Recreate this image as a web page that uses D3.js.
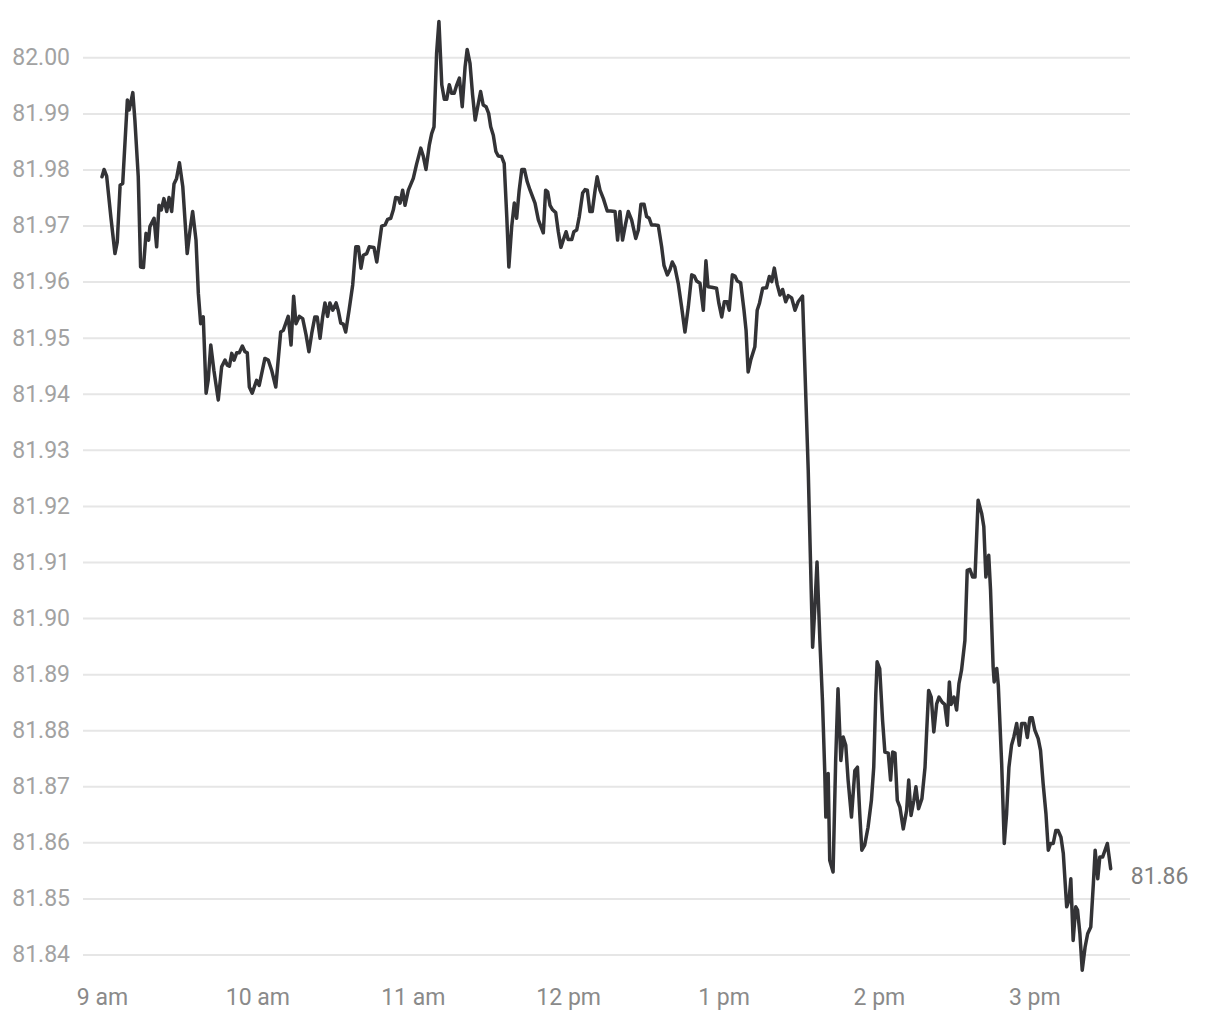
<!DOCTYPE html>
<html lang="en">
<head>
<meta charset="UTF-8">
<title>Intraday price</title>
<style>
  * { margin: 0; padding: 0; }
  body { background: #fff; }
  svg text { font-family: Roboto, "Noto Sans", sans-serif; }
</style>
</head>
<body>
<div id="chart"></div>
<script src="https://cdn.jsdelivr.net/npm/d3@7/dist/d3.min.js"></script>
<script>
// minutes after 9:00
var minutes = [
  0, 0.8, 1.8, 3.4, 5.0, 5.9, 7.0, 8.0, 9.8, 10.5, 11.9, 12.7, 14.0, 14.9, 16.0, 17.0, 18.0, 18.5, 20.1, 21.1,
  22.0, 22.9, 23.9, 25.0, 25.9, 26.9, 27.8, 28.8, 29.9, 31.2, 32.9, 34.0, 35.0, 36.3, 37.2, 38.1, 39.1, 40.2, 41.0, 42.0,
  43.2, 44.9, 46.2, 47.5, 48.4, 49.2, 50.1, 51.0, 52.0, 53.0, 54.2, 55.2, 56.1, 56.9, 58.0, 59.7, 60.7, 62.9, 64.2, 65.5,
  67.1, 69.0, 70.0, 71.9, 73.0, 74.0, 74.9, 76.2, 77.5, 78.8, 79.9, 81.0, 82.2, 83.1, 84.2, 85.2, 86.1, 87.1, 88.0, 89.1,
  90.4, 91.2, 92.2, 93.2, 94.1, 95.4, 96.8, 98.0, 99.0, 100.0, 100.9, 102.2, 103.2, 105.0, 106.1, 108.0, 109.3, 110.3, 111.5, 112.5,
  113.4, 114.4, 115.1, 116.1, 117.0, 118.3, 120.2, 121.5, 123.1, 124.1, 125.1, 126.4, 127.3, 128.2, 129.2, 130.1, 131.2, 132.2, 133.1, 134.1,
  135.0, 136.0, 137.0, 138.0, 139.1, 140.2, 141.0, 142.1, 143.1, 144.1, 145.2, 146.2, 147.2, 148.3, 149.3, 150.1, 151.1, 152.1, 153.0, 154.3,
  155.3, 156.3, 157.1, 158.2, 159.2, 160.1, 161.1, 162.1, 163.1, 164.2, 165.3, 167.2, 168.5, 170.4, 171.3, 172.1, 173.0, 174.0, 175.2, 176.2,
  177.2, 178.1, 179.2, 180.0, 181.4, 182.2, 183.3, 184.3, 185.6, 186.5, 187.4, 188.4, 189.3, 190.4, 191.2, 192.3, 193.6, 195.1, 196.4, 198.1,
  199.1, 200.0, 201.0, 202.1, 203.2, 204.5, 206.1, 207.1, 208.1, 209.3, 210.3, 211.3, 212.2, 213.5, 214.8, 216.1, 217.0, 218.3, 219.3, 220.2,
  221.2, 222.5, 223.8, 225.1, 226.4, 227.7, 228.7, 229.6, 230.9, 232.2, 233.2, 234.0, 235.4, 237.3, 238.2, 239.3, 240.3, 241.4, 242.2, 243.4,
  244.4, 245.3, 246.6, 247.9, 248.7, 249.5, 250.5, 252.1, 253.0, 253.9, 255.1, 256.6, 257.7, 258.6, 259.6, 260.7, 261.8, 262.8, 264.0, 265.0,
  266.3, 267.6, 268.8, 270.5, 272.7, 274.4, 275.2, 276.1, 277.2, 278.2, 279.1, 279.5, 280.4, 281.0, 282.3, 283.3, 284.2, 285.3, 286.2, 287.2,
  288.1, 289.4, 290.7, 291.7, 292.6, 293.4, 294.5, 295.8, 297.1, 298.0, 298.8, 299.3, 300.3, 301.4, 302.3, 303.6, 304.5, 305.3, 306.2, 307.1,
  308.1, 309.4, 310.7, 311.5, 312.4, 313.5, 314.3, 315.3, 316.6, 317.8, 318.4, 319.2, 320.2, 321.2, 322.3, 323.2, 324.4, 325.4, 326.4, 327.2,
  327.9, 329.0, 330.0, 330.9, 331.9, 333.2, 334.1, 335.1, 336.2, 337.1, 338.3, 339.7, 340.5, 341.3, 342.4, 343.1, 344.1, 344.5, 345.5, 346.1,
  347.4, 348.4, 349.3, 350.2, 351.2, 352.1, 353.2, 354.2, 355.1, 356.4, 357.3, 358.3, 359.2, 360.2, 361.5, 362.4, 363.4, 364.5, 365.4, 366.3,
  367.3, 368.3, 369.2, 370.3, 371.2, 372.5, 373.4, 374.1, 375.0, 376.0, 376.7, 377.6, 378.5, 379.6, 380.6, 381.8, 382.8, 383.5, 384.5, 385.3,
  386.4, 387.3, 388.2, 389.5
];

var prices = [
  81.9787, 81.9800, 81.9788, 81.9716, 81.9650, 81.9671, 81.9772, 81.9775, 81.9924, 81.9906, 81.9937, 81.9888, 81.9787, 81.9626, 81.9625, 81.9686, 81.9674, 81.9698, 81.9713, 81.9662,
  81.9736, 81.9728, 81.9748, 81.9725, 81.9750, 81.9725, 81.9774, 81.9784, 81.9812, 81.9769, 81.9650, 81.9692, 81.9725, 81.9674, 81.9579, 81.9525, 81.9537, 81.9401, 81.9424, 81.9487,
  81.9442, 81.9389, 81.9448, 81.9460, 81.9451, 81.9449, 81.9472, 81.9460, 81.9473, 81.9473, 81.9485, 81.9475, 81.9473, 81.9412, 81.9401, 81.9424, 81.9415, 81.9463, 81.9460, 81.9442,
  81.9412, 81.9510, 81.9513, 81.9538, 81.9487, 81.9574, 81.9525, 81.9538, 81.9534, 81.9505, 81.9475, 81.9508, 81.9537, 81.9537, 81.9499, 81.9537, 81.9562, 81.9538, 81.9562, 81.9549,
  81.9562, 81.9549, 81.9526, 81.9524, 81.9510, 81.9549, 81.9594, 81.9662, 81.9662, 81.9624, 81.9647, 81.9650, 81.9662, 81.9661, 81.9635, 81.9699, 81.9701, 81.9711, 81.9713, 81.9728,
  81.9750, 81.9749, 81.9740, 81.9763, 81.9736, 81.9763, 81.9784, 81.9810, 81.9838, 81.9823, 81.9800, 81.9844, 81.9864, 81.9876, 82.0007, 82.0064, 81.9951, 81.9925, 81.9925, 81.9951,
  81.9936, 81.9936, 81.9951, 81.9963, 81.9912, 81.9983, 82.0014, 81.9989, 81.9933, 81.9888, 81.9915, 81.9939, 81.9915, 81.9912, 81.9900, 81.9876, 81.9861, 81.9832, 81.9824, 81.9823,
  81.9811, 81.9716, 81.9626, 81.9698, 81.9740, 81.9713, 81.9763, 81.9800, 81.9800, 81.9778, 81.9763, 81.9740, 81.9710, 81.9687, 81.9763, 81.9760, 81.9736, 81.9728, 81.9723, 81.9689,
  81.9661, 81.9674, 81.9689, 81.9675, 81.9675, 81.9689, 81.9692, 81.9716, 81.9758, 81.9764, 81.9763, 81.9725, 81.9725, 81.9763, 81.9787, 81.9763, 81.9748, 81.9726, 81.9726, 81.9725,
  81.9674, 81.9725, 81.9674, 81.9701, 81.9725, 81.9710, 81.9677, 81.9692, 81.9738, 81.9738, 81.9716, 81.9713, 81.9701, 81.9701, 81.9700, 81.9662, 81.9629, 81.9612, 81.9621, 81.9635,
  81.9626, 81.9597, 81.9555, 81.9510, 81.9555, 81.9612, 81.9610, 81.9601, 81.9597, 81.9549, 81.9637, 81.9591, 81.9590, 81.9588, 81.9561, 81.9537, 81.9564, 81.9564, 81.9549, 81.9612,
  81.9610, 81.9601, 81.9598, 81.9549, 81.9513, 81.9439, 81.9460, 81.9484, 81.9549, 81.9562, 81.9588, 81.9589, 81.9609, 81.9600, 81.9624, 81.9595, 81.9576, 81.9586, 81.9564, 81.9575,
  81.9571, 81.9549, 81.9564, 81.9574, 81.9264, 81.8948, 81.9014, 81.9100, 81.8960, 81.8853, 81.8723, 81.8645, 81.8723, 81.8568, 81.8547, 81.8746, 81.8874, 81.8746, 81.8788, 81.8773,
  81.8711, 81.8645, 81.8728, 81.8734, 81.8651, 81.8586, 81.8595, 81.8627, 81.8675, 81.8734, 81.8865, 81.8922, 81.8910, 81.8818, 81.8761, 81.8759, 81.8711, 81.8761, 81.8759, 81.8675,
  81.8663, 81.8624, 81.8657, 81.8711, 81.8648, 81.8675, 81.8699, 81.8660, 81.8678, 81.8734, 81.8794, 81.8871, 81.8859, 81.8797, 81.8847, 81.8859, 81.8850, 81.8846, 81.8809, 81.8886,
  81.8846, 81.8859, 81.8836, 81.8883, 81.8907, 81.8960, 81.9085, 81.9087, 81.9073, 81.9073, 81.9210, 81.9186, 81.9163, 81.9073, 81.9112, 81.9050, 81.8913, 81.8886, 81.8910, 81.8880,
  81.8740, 81.8598, 81.8651, 81.8734, 81.8773, 81.8788, 81.8812, 81.8773, 81.8812, 81.8812, 81.8787, 81.8822, 81.8822, 81.8800, 81.8785, 81.8764, 81.8705, 81.8651, 81.8586, 81.8598,
  81.8598, 81.8621, 81.8621, 81.8609, 81.8580, 81.8485, 81.8497, 81.8535, 81.8425, 81.8485, 81.8479, 81.8437, 81.8372, 81.8413, 81.8437, 81.8449, 81.8526, 81.8586, 81.8535, 81.8574,
  81.8574, 81.8586, 81.8598, 81.8553
];

var yTicks = [81.84, 81.85, 81.86, 81.87, 81.88, 81.89, 81.90, 81.91, 81.92, 81.93, 81.94, 81.95, 81.96, 81.97, 81.98, 81.99, 82.00];
var xTickHours = [9, 10, 11, 12, 13, 14, 15];
var xTickLabels = ['9 am', '10 am', '11 am', '12 pm', '1 pm', '2 pm', '3 pm'];

var width = 1220, height = 1020;
var day = function (h, m) { return new Date(2020, 0, 6, h, m || 0); };
var start = day(9, 0);

var data = minutes.map(function (m, i) {
  return { t: new Date(start.getTime() + m * 60000), v: prices[i] };
});

var svg = d3.select('#chart').append('svg')
  .attr('width', width).attr('height', height);

var x = d3.scaleTime()
  .domain([day(9, 0), day(15, 30)])
  .range([102, 1112]);

var y = d3.scaleLinear()
  .domain([81.84, 82.00])
  .range([954.5, 57.3]);

// grid + y labels
var yAxis = svg.append('g')
  .attr('transform', 'translate(1130,0)')
  .call(d3.axisLeft(y)
    .tickValues(yTicks)
    .tickSize(1047)
    .tickPadding(13)
    .tickFormat(d3.format('.2f')));
yAxis.select('.domain').remove();
yAxis.selectAll('line').attr('stroke', '#e6e6e6').attr('stroke-width', 2);
yAxis.selectAll('text')
  .attr('fill', '#a2a2a2')
  .attr('font-size', 23)
  .attr('font-family', 'Roboto, sans-serif');

// x labels
var xAxis = svg.append('g')
  .attr('transform', 'translate(0,980)')
  .call(d3.axisBottom(x)
    .tickValues(xTickHours.map(function (h) { return day(h, 0); }))
    .tickSize(0)
    .tickFormat(function (d, i) { return xTickLabels[i]; }));
xAxis.select('.domain').remove();
xAxis.selectAll('text')
  .attr('y', 25).attr('dy', 0)
  .attr('fill', '#8a8a8a')
  .attr('font-size', 23)
  .attr('font-family', 'Roboto, sans-serif');

var line = d3.line()
  .x(function (d) { return x(d.t); })
  .y(function (d) { return y(d.v); });

svg.append('path')
  .datum(data)
  .attr('d', line)
  .attr('fill', 'none')
  .attr('stroke', '#333336')
  .attr('stroke-width', 3.5)
  .attr('stroke-linejoin', 'round')
  .attr('stroke-linecap', 'round');

var last = data[data.length - 1];
svg.append('text')
  .attr('x', x(last.t) + 20)
  .attr('y', y(last.v) + 9)
  .attr('dominant-baseline', 'middle')
  .attr('fill', '#808080')
  .attr('font-size', 23)
  .text(d3.format('.2f')(last.v));
</script>
</body>
</html>
